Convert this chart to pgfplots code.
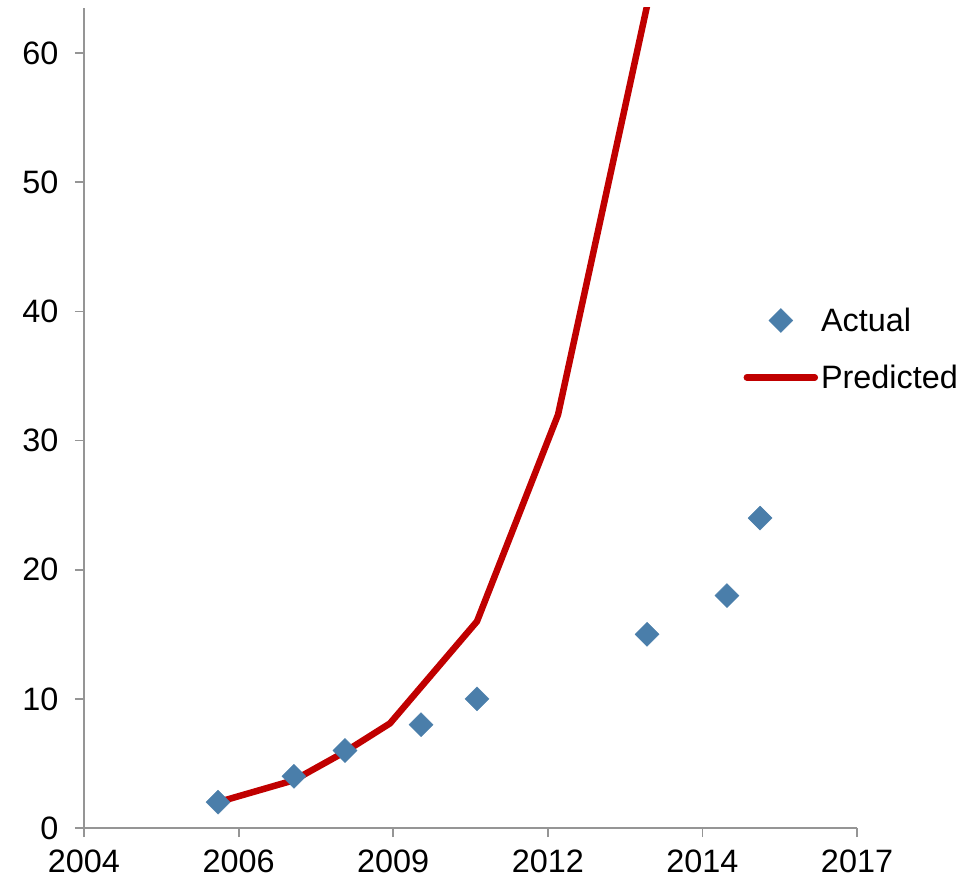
\documentclass[border=0pt]{standalone}
\usepackage{pgfplots}
\pgfplotsset{compat=1.18}
\usepackage{fontspec}
\setmainfont{Liberation Sans}
\definecolor{actualblue}{HTML}{4A7EAA}
\definecolor{predred}{HTML}{C00000}
\definecolor{axgray}{HTML}{959595}
\begin{document}
\begin{tikzpicture}[x=1bp,y=1bp]
\useasboundingbox (0,0) rectangle (963,883);
\begin{axis}[
  at={(84bp,55bp)}, anchor=south west,
  scale only axis,
  width=773bp, height=820bp,
  xmin=0, xmax=5, ymin=0, ymax=63.5,
  axis x line*=bottom, axis y line*=left,
  xtick={0,1,2,3,4,5},
  xticklabels={2004,2006,2009,2012,2014,2017},
  ytick={0,10,20,30,40,50,60},
  tick align=outside, major tick length=9bp,
  tick style={axgray, line width=1.8bp},
  axis line style={axgray, line width=2.5bp},
  font=\fontsize{32.5}{39}\selectfont,
  tick label style={font=\fontsize{32.5}{39}\selectfont, black},
  xticklabel style={yshift=-9bp},
  yticklabel style={xshift=-13bp},
  /pgf/number format/assume math mode=true,
  reverse legend,
  legend cell align=left,
  legend style={at={(0.853,0.638)}, anchor=north west, draw=none, fill=none,
    font=\fontsize{32.5}{39}\selectfont, row sep=26bp, inner sep=0pt,
    nodes={inner sep=3bp}},
  legend image code/.code={\draw[mark repeat=2,mark phase=2,#1] plot coordinates {(0bp,0bp) (34bp,0bp) (68bp,0bp)};},
]
\addplot[predred, line width=6.5bp, line join=round, line cap=round] coordinates {
(0.867,2) (1.358,3.7) (1.688,5.9) (1.979,8.1) (2.542,16) (3.066,32) (3.648,64)
};
\addlegendentry{Predicted}
\addplot[only marks, mark=square*, mark size=8.5bp, mark options={rotate=45, fill=actualblue, draw=actualblue}] coordinates {
(0.867,2) (1.358,4) (1.688,6) (2.180,8) (2.542,10) (3.642,15) (4.159,18) (4.373,24)
};
\addlegendentry{Actual}
\end{axis}
\end{tikzpicture}
\end{document}
